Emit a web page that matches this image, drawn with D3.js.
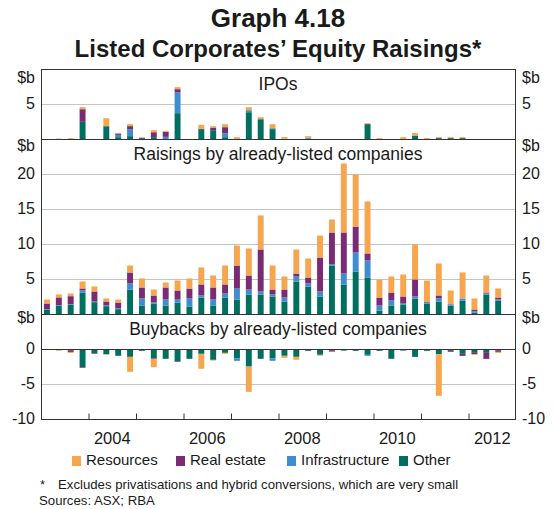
<!DOCTYPE html>
<html>
<head>
<meta charset="utf-8">
<script src="https://cdn.jsdelivr.net/npm/d3@7"></script>
<style>
  body { margin: 0; background: #fff; }
  text { font-family: Arial, "Liberation Sans", sans-serif; fill: #1a1a1a; }
</style>
</head>
<body>
<svg id="chart" width="556" height="509"></svg>
<script>
// quarters 2003 Q1 .. 2012 Q4 (last quarter has no data)
var quarters = [];
for (var yr = 2003; yr <= 2012; yr++) {
  for (var q = 1; q <= 4; q++) quarters.push(yr + "Q" + q);
}
var years = [2004, 2006, 2008, 2010, 2012];
var seriesNames = ["Other", "Infrastructure", "Real estate", "Resources"];
var legendNames = ["Resources", "Real estate", "Infrastructure", "Other"];
var colours = {"Resources": "#f6a64e", "Real estate": "#792b74", "Infrastructure": "#3e8dd0", "Other": "#006f5f"};

// IPOs, $b
var ipoOther = [0,0,0,2.52,0,1.9,0.33,0.48,0.19,0.33,0.05,3.76,0,1.48,1.33,0.33,0,3.9,2.9,1.48,0.1,0,0.1,0,0,0,0,2.2,0,0,0,0.5,0,0.2,0.2,0.2,0,0,0];
var ipoInfra = [0,0,0,0,0,0,0.33,1.0,0,0,0.33,3.0,0,0,0,0.57,0,0.29,0,0.14,0,0,0.14,0,0,0,0,0,0,0,0,0,0,0,0,0,0,0,0];
var ipoRealEstate = [0,0.1,0,1.81,0,0,0.19,0.43,0.05,0.71,0.71,0.43,0,0.05,0.38,0.86,0,0,0,0,0,0,0,0,0,0,0,0,0,0,0,0,0,0,0,0,0,0,0];
var ipoResources = [0,0,0.2,0.29,0.05,1.14,0.1,0.29,0.1,0.29,0.14,0.29,0.05,0.57,0.19,0.43,0.33,0.43,0.29,0.57,0.25,0.05,0.24,0,0,0,0.05,0.14,0.2,0.05,0.33,0.43,0.2,0.14,0.14,0.14,0,0.05,0.05];

// Raisings by already-listed companies, $b
var raiseOther = [0.67,1.24,1.38,3.14,1.76,1.19,0.76,3.57,1.29,1.57,1.29,1.71,1.14,2.43,1.29,2.43,2.14,2.86,2.86,2.57,1.86,4.71,4.0,2.57,7.0,4.29,6.14,5.29,0.57,1.29,1.43,2.29,1.57,1.86,1.29,2.0,0.29,2.86,2.0];
var raiseInfra = [0.1,0.1,0.1,0.29,0.1,0.1,0.14,0.86,1.0,0.14,0.86,0.43,1.14,0.29,0.86,0.57,1.57,0.71,0.43,0.29,0.57,0.71,0.43,0.71,0.19,1.57,2.71,2.43,0.71,0.71,0.14,0.29,0.14,0.43,0.14,0.29,0.14,0.14,0.14];
var raiseRealEstate = [0.8,1.1,1.14,0.29,1.43,0.57,0.81,1.57,1.57,1.0,1.71,1.29,1.43,1.57,1.71,1.29,3.29,2.0,6.0,0.71,1.14,0.43,0.86,4.86,4.52,5.86,3.71,1.0,1.14,1.14,1.0,2.43,0.14,0.43,0.05,0,0.29,0.14,0.29];
var raiseResources = [0.57,0.43,0.38,1.0,0.71,0.43,0.43,1.0,1.29,0.86,0.71,1.43,1.43,2.43,1.71,2.71,2.86,3.86,4.86,3.43,1.86,3.43,2.71,3.14,1.86,9.86,7.43,7.43,2.57,2.29,3.14,5.0,3.0,4.57,1.95,3.71,1.57,2.43,1.29];

// Buybacks by already-listed companies, $b
var buyOther = [0,0,-0.1,-2.52,-0.52,-0.67,-0.9,-1.05,-0.19,-1.24,-1.33,-1.67,-1.33,-0.62,-1.48,-0.48,-1.24,-2.38,-1.33,-1.24,-0.9,-1.05,-0.19,-0.76,0,0,-0.19,-0.76,-0.19,-1.33,-0.1,-1.05,-0.19,-0.67,-0.19,-0.62,-0.48,-0.48,-0.1];
var buyInfra = [0,0,0,0,0,0,0,0,0,0,0,0,0,0,0,0,-0.38,-0.1,0,-0.38,0,0,0,0,-0.1,-0.19,0,-0.14,0,0,-0.1,0,0,0,0,0,0,0,0];
var buyRealEstate = [-0.05,0,-0.25,-0.1,-0.1,0,0,0,0,-0.1,0,-0.1,0,0,0,0,0,0,0,0,0,0,0,0,-0.2,0,0,0,0,0,0,0,0,0,-0.14,-0.29,-0.19,-0.86,-0.24];
var buyResources = [0,-0.19,-0.14,0,0,-0.1,0,-2.14,0,-1.19,0,0,0,-2.14,-0.1,-0.14,0,-3.57,0,0,-0.29,-0.43,0,-0.14,0,0,0,0,0,0,0,0,0,-5.95,0,0,-0.1,0,-0.14];

var svg = d3.select("#chart");
var left = 41, right = 516;

var x = d3.scaleBand()
    .domain(quarters)
    .range([left, right])
    .paddingInner(0.5)
    .paddingOuter(0.25);
var xYear = d3.scaleLinear().domain([2003, 2013]).range([left, right]);

var panels = [
  {name: "IPOs", domain: [0, 10], range: [139.5, 69.5], ticks: [5], topLabelY: 79,
   data: [ipoOther, ipoInfra, ipoRealEstate, ipoResources]},
  {name: "Raisings by already-listed companies", domain: [0, 25], range: [314.5, 139.5], ticks: [5, 10, 15, 20], topLabelY: 147,
   data: [raiseOther, raiseInfra, raiseRealEstate, raiseResources]},
  {name: "Buybacks by already-listed companies", domain: [-10, 5], range: [419.5, 314.5], ticks: [-10, -5, 0], topLabelY: 319,
   data: [buyOther, buyInfra, buyRealEstate, buyResources]}
];

panels.forEach(function(p) {
  var y = d3.scaleLinear().domain(p.domain).range(p.range);
  var rows = quarters.slice(0, 39).map(function(qq, i) {
    var r = {q: qq};
    seriesNames.forEach(function(s, k) { r[s] = p.data[k][i]; });
    return r;
  });

  var g = svg.append("g");

  // grid lines
  g.selectAll(".grid")
    .data(p.ticks.filter(function(t) { return t != 0 && t != p.domain[0]; }))
    .enter().append("line")
    .attr("x1", left).attr("x2", right)
    .attr("y1", function(d) { return y(d); })
    .attr("y2", function(d) { return y(d); })
    .attr("stroke", "#c4c4c4")
    .attr("stroke-width", 1);

  var stacked = d3.stack()
    .keys(seriesNames)
    .offset(d3.stackOffsetDiverging)(rows);

  g.selectAll(".series")
    .data(stacked)
    .enter().append("g")
    .attr("fill", function(d) { return colours[d.key]; })
    .selectAll("rect")
    .data(function(d) { return d; })
    .enter().append("rect")
    .attr("x", function(d) { return x(d.data.q); })
    .attr("width", x.bandwidth())
    .attr("y", function(d) { return y(Math.max(d[0], d[1])); })
    .attr("height", function(d) { return Math.abs(y(d[0]) - y(d[1])); });

  // zero line for buyback panel
  if (p.domain[0] < 0) {
    g.append("line")
      .attr("x1", left).attr("x2", right)
      .attr("y1", y(0)).attr("y2", y(0))
      .attr("stroke", "#333").attr("stroke-width", 1);
  }

  // panel title
  g.append("text")
    .attr("x", 278).attr("y", p.range[1] + 16)
    .attr("text-anchor", "middle")
    .attr("dominant-baseline", "middle")
    .style("font-size", "17.5px")
    .text(p.name);

  // tick labels both sides
  [left - 6, right + 6].forEach(function(xx, side) {
    var anchor = side == 0 ? "end" : "start";
    g.selectAll(".lab" + side)
      .data(p.ticks)
      .enter().append("text")
      .attr("x", xx)
      .attr("y", function(d) { return y(d); })
      .attr("text-anchor", anchor)
      .attr("dominant-baseline", "middle")
      .style("font-size", "16px")
      .text(function(d) { return d; });
    g.append("text")
      .attr("x", xx).attr("y", p.topLabelY)
      .attr("text-anchor", anchor)
      .attr("dominant-baseline", "middle")
      .style("font-size", "16px")
      .text("$b");
  });
});

// frame and panel borders
svg.append("rect")
  .attr("x", left + 0.5).attr("y", 69.5)
  .attr("width", right - left - 1).attr("height", 350)
  .attr("fill", "none").attr("stroke", "#333").attr("stroke-width", 1);
[139.5, 314.5].forEach(function(yy) {
  svg.append("line")
    .attr("x1", left).attr("x2", right)
    .attr("y1", yy).attr("y2", yy)
    .attr("stroke", "#333").attr("stroke-width", 1.2);
});

// year ticks (inside, pointing up) and labels between ticks
var xAxis = d3.axisBottom(xYear)
  .tickValues(d3.range(2004, 2013))
  .tickSize(-6)
  .tickFormat("");
var ax = svg.append("g").attr("transform", "translate(0,419.5)").call(xAxis);
ax.select(".domain").remove();
ax.selectAll("line").attr("stroke", "#333");

svg.selectAll(".year")
  .data(years)
  .enter().append("text")
  .attr("x", function(d) { return xYear(d + 0.5); })
  .attr("y", 440)
  .attr("text-anchor", "middle")
  .attr("dominant-baseline", "middle")
  .style("font-size", "16.5px")
  .text(function(d) { return d; });

// titles
svg.append("text")
  .attr("x", 278).attr("y", 27)
  .attr("text-anchor", "middle")
  .style("font-size", "26px").style("font-weight", "bold")
  .text("Graph 4.18");
svg.append("text")
  .attr("x", 278).attr("y", 57)
  .attr("text-anchor", "middle")
  .style("font-size", "24px").style("font-weight", "bold")
  .text("Listed Corporates\u2019 Equity Raisings*");

// legend
var legendX = [72, 176, 287, 399];
var leg = svg.selectAll(".leg")
  .data(legendNames)
  .enter().append("g")
  .attr("transform", function(d, i) { return "translate(" + legendX[i] + ",461)"; });
leg.append("rect")
  .attr("x", 0).attr("y", -5)
  .attr("width", 9).attr("height", 10)
  .attr("fill", function(d) { return colours[d]; });
leg.append("text")
  .attr("x", 14).attr("y", 0)
  .attr("dominant-baseline", "middle")
  .style("font-size", "15px")
  .text(function(d) { return d; });

// footnotes
svg.append("text")
  .attr("x", 40).attr("y", 489)
  .style("font-size", "13.2px")
  .text("*");
svg.append("text")
  .attr("x", 58).attr("y", 489)
  .style("font-size", "13.2px")
  .text("Excludes privatisations and hybrid conversions, which are very small");
svg.append("text")
  .attr("x", 39).attr("y", 505)
  .style("font-size", "13.2px")
  .text("Sources: ASX; RBA");
</script>
</body>
</html>
